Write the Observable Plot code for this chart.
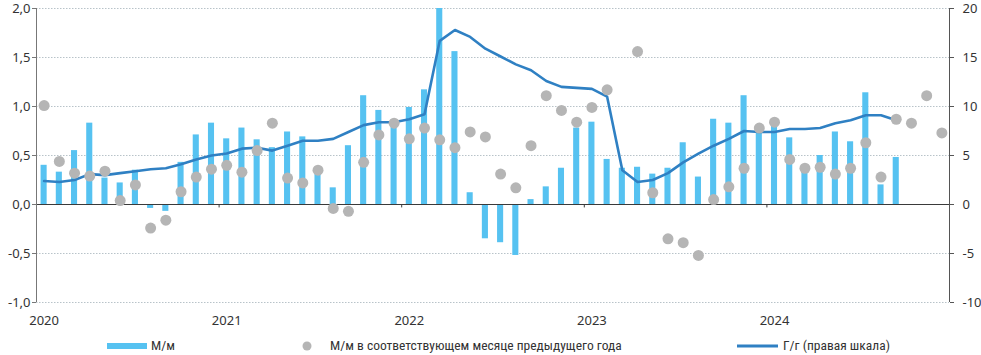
<!DOCTYPE html>
<html>
<head>
<meta charset="utf-8">
<script src="https://cdn.jsdelivr.net/npm/d3@7"></script>
<script src="https://cdn.jsdelivr.net/npm/@observablehq/plot@0.6"></script>
<style>
  html, body { margin: 0; padding: 0; background: #fff; }
  #wrap { width: 981px; }
  #legend { position: relative; width: 981px; height: 23px; font-family: "Liberation Sans Narrow", "Roboto Condensed", Roboto, sans-serif; font-size: 13.5px; color: #333; }
  #legend .lbl { position: absolute; top: 4px; line-height: 15px; white-space: nowrap; }
</style>
</head>
<body>
<div id="wrap">
  <div id="chart"></div>
  <div id="legend"></div>
</div>
<script>
// Categories
const years = [2020, 2021, 2022, 2023, 2024];
const monthNums = [1, 2, 3, 4, 5, 6, 7, 8, 9, 10, 11, 12];

// M/m, % (bars, left scale), Jan 2020 .. Sep 2024
const mmValues = [
  0.40, 0.33, 0.55, 0.83, 0.27, 0.22, 0.35, -0.04, -0.07, 0.43, 0.71, 0.83,
  0.67, 0.78, 0.66, 0.58, 0.74, 0.69, 0.31, 0.17, 0.60, 1.11, 0.96, 0.84,
  0.99, 1.17, 2.00, 1.56, 0.12, -0.35, -0.39, -0.52, 0.05, 0.18, 0.37, 0.78,
  0.84, 0.46, 0.37, 0.38, 0.31, 0.37, 0.63, 0.28, 0.87, 0.83, 1.11, 0.73,
  0.86, 0.68, 0.39, 0.50, 0.74, 0.64, 1.14, 0.20, 0.48
];

// M/m in the same month of previous year (dots, left scale), Jan 2020 .. Dec 2024
const prevYearValues = [
  1.01, 0.44, 0.32, 0.29, 0.34, 0.04, 0.20, -0.24, -0.16, 0.13, 0.28, 0.36,
  0.40, 0.33, 0.55, 0.83, 0.27, 0.22, 0.35, -0.04, -0.07, 0.43, 0.71, 0.83,
  0.67, 0.78, 0.66, 0.58, 0.74, 0.69, 0.31, 0.17, 0.60, 1.11, 0.96, 0.84,
  0.99, 1.17, null, 1.56, 0.12, -0.35, -0.39, -0.52, 0.05, 0.18, 0.37, 0.78,
  0.84, 0.46, 0.37, 0.38, 0.31, 0.37, 0.63, 0.28, 0.87, 0.83, 1.11, 0.73
];

// Y/y, % (line, right scale), Jan 2020 .. Sep 2024
const yyValues = [
  2.4, 2.3, 2.5, 3.1, 3.0, 3.2, 3.4, 3.6, 3.7, 4.1, 4.6, 5.0,
  5.2, 5.7, 5.8, 5.5, 6.0, 6.5, 6.5, 6.7, 7.4, 8.1, 8.4, 8.4,
  8.7, 9.2, 16.7, 17.8, 17.1, 15.9, 15.1, 14.3, 13.7, 12.6, 12.0, 11.9,
  11.8, 11.0, 3.5, 2.3, 2.5, 3.2, 4.3, 5.2, 6.0, 6.7, 7.5, 7.4,
  7.4, 7.7, 7.7, 7.8, 8.3, 8.6, 9.1, 9.1, 8.6
];

// Tick labels
const leftTicks = [-1, -0.5, 0, 0.5, 1, 1.5, 2];
const rightTickLabels = ["-10", "-5", "0", "5", "10", "15", "20"];
const legendLabels = ["М/м", "М/м в соответствующем месяце предыдущего года", "Г/г (правая шкала)"];

const months = years.flatMap(y => monthNums.map(m => `${y}-${String(m).padStart(2, "0")}`));
const rows = months.map((m, i) => ({
  m,
  mm: mmValues[i] ?? null,
  prev: prevYearValues[i] ?? null,
  yy: yyValues[i] ?? null
}));
const yearRows = years.map(y => ({m: `${y}-01`, label: String(y)}));

const W = 981, H = 332;
const mL = 36, mR = 32;
const step = (W - mL - mR) / months.length;

const barColor = "#56c2f1";
const lineColor = "#2f80c3";
const dotColor = "#b5b5b5";

const chart = Plot.plot({
  width: W,
  height: H,
  marginTop: 8,
  marginBottom: 30,
  marginLeft: mL,
  marginRight: mR,
  style: {fontFamily: "'Noto Sans', 'DejaVu Sans', sans-serif", fontSize: "13px", color: "#333", background: "#fff"},
  x: {type: "band", domain: months, paddingInner: 0.6, paddingOuter: 0.3, round: false, axis: null},
  y: {domain: [-1, 2], axis: null, label: null},
  marks: [
    Plot.ruleY(leftTicks.filter(v => v !== 0), {stroke: "#b8c3c9", strokeDasharray: "1.5,1.5"}),
    Plot.barY(rows.filter(d => d.mm != null), {x: "m", y: "mm", fill: barColor}),
    Plot.ruleY([0], {stroke: "#3a3a3a", strokeWidth: 1}),
    Plot.ruleX(yearRows.slice(1), {x: "m", dx: -step / 2, y1: 0, y2: -0.035, stroke: "#3a3a3a"}),
    Plot.ruleX([months[0]], {dx: -step / 2, y1: -1, y2: 2, stroke: "#777"}),
    Plot.ruleX([months[months.length - 1]], {dx: step / 2, y1: -1, y2: 2, stroke: "#555"}),
    Plot.line(rows.filter(d => d.yy != null), {x: "m", y: d => d.yy / 10, stroke: lineColor, strokeWidth: 2.6, curve: "linear"}),
    Plot.dot(rows.filter(d => d.prev != null), {x: "m", y: "prev", r: 5.5, fill: dotColor, stroke: "none"}),
    Plot.axisY(leftTicks, {anchor: "left", tickSize: 4, tickPadding: 2, stroke: "#777", tickFormat: d => d.toFixed(1).replace(".", ","), label: null}),
    Plot.axisY(leftTicks, {anchor: "right", tickSize: 4, tickPadding: 9, stroke: "#555", tickFormat: (d, i) => rightTickLabels[i], label: null}),
    Plot.text(yearRows, {x: "m", text: "label", frameAnchor: "bottom", lineAnchor: "middle", dy: 18, fill: "#333"})
  ]
});
document.getElementById("chart").appendChild(chart);

// Legend
const legend = document.getElementById("legend");
legend.innerHTML = `
  <svg width="981" height="23" style="position:absolute;left:0;top:0">
    <rect x="107" y="11" width="40" height="6" fill="${barColor}"></rect>
    <circle cx="307" cy="14" r="4.5" fill="${dotColor}"></circle>
    <line x1="737" x2="778" y1="14" y2="14" stroke="${lineColor}" stroke-width="3"></line>
  </svg>
  <span class="lbl" style="left:151px;top:6px">${legendLabels[0]}</span>
  <span class="lbl" style="left:330px;top:6px">${legendLabels[1]}</span>
  <span class="lbl" style="left:783px;top:6px">${legendLabels[2]}</span>
`;
</script>
</body>
</html>
